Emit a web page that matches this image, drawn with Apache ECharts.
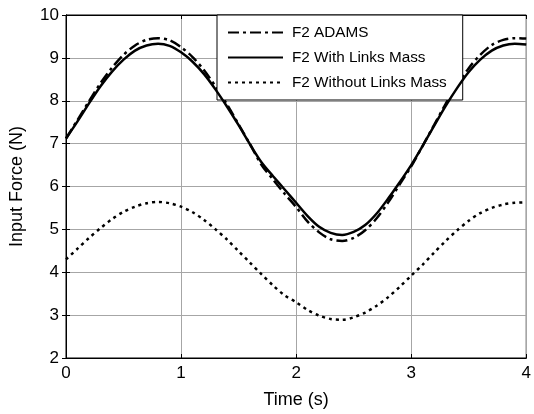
<!DOCTYPE html>
<html>
<head>
<meta charset="utf-8">
<script src="https://cdn.jsdelivr.net/npm/echarts@6/dist/echarts.min.js"></script>
<style>
html,body{margin:0;padding:0;background:#fff;}
#chart{width:534px;height:414px;}
</style>
</head>
<body>
<div id="chart"></div>
<script>
// Time samples (s)
var timeS = [0.0,0.1,0.2,0.3,0.4,0.5,0.6,0.7,0.8,0.9,1.0,1.1,1.2,1.3,1.4,1.5,1.6,1.7,1.8,1.9,2.0,
             2.1,2.2,2.3,2.4,2.5,2.6,2.7,2.8,2.9,3.0,3.1,3.2,3.3,3.4,3.5,3.6,3.7,3.8,3.9,4.0];
// F2 ADAMS (N)
var f2Adams = [7.12,7.55,7.99,8.41,8.77,9.07,9.29,9.42,9.46,9.41,9.25,9.02,8.71,8.33,7.91,7.45,6.98,6.50,6.16,5.83,5.52,
               5.18,4.93,4.77,4.73,4.80,4.98,5.26,5.63,6.05,6.47,6.95,7.44,7.93,8.37,8.76,9.07,9.30,9.42,9.46,9.45];
// F2 With Links Mass (N)
var f2WithMass = [7.12,7.52,7.94,8.34,8.68,8.96,9.17,9.29,9.33,9.28,9.13,8.91,8.62,8.26,7.86,7.43,6.98,6.56,6.24,5.93,5.62,
                  5.31,5.06,4.92,4.87,4.94,5.10,5.37,5.72,6.10,6.50,6.95,7.42,7.88,8.30,8.67,8.96,9.17,9.29,9.33,9.31];
// F2 Without Links Mass (N)
var f2WithoutMass = [4.30,4.55,4.80,5.03,5.24,5.41,5.53,5.61,5.64,5.61,5.53,5.40,5.22,5.00,4.76,4.49,4.22,3.95,3.69,3.46,3.30,
                     3.12,2.99,2.91,2.89,2.95,3.06,3.22,3.42,3.66,3.92,4.18,4.46,4.73,4.98,5.20,5.38,5.50,5.58,5.62,5.63];
var xTicks = [0,1,2,3,4];
var yTicks = [2,3,4,5,6,7,8,9,10];
var seriesNames = ['F2 ADAMS','F2 With Links Mass','F2 Without Links Mass'];

function pairs(ys){ return timeS.map(function(t,i){ return [t, ys[i]]; }); }

var FONT = '"Liberation Sans", Arial, sans-serif';
var chart = echarts.init(document.getElementById('chart'), null, {renderer:'canvas'});
var gridLine = {show:true, lineStyle:{color:'#a6a6a6', width:1}};
chart.setOption({
  animation:false,
  backgroundColor:'#fff',
  grid:{left:64, right:2, top:15, bottom:52, show:true, borderColor:'#000', borderWidth:1, backgroundColor:'transparent'},
  xAxis:[{
    type:'value', min:xTicks[0], max:xTicks[xTicks.length-1], interval:1, position:'bottom',
    axisLine:{show:true, lineStyle:{color:'#000', width:1}},
    axisTick:{show:true, inside:true, length:4, lineStyle:{color:'#000'}},
    axisLabel:{color:'#000', fontSize:17, fontFamily:FONT, margin:7},
    splitLine:gridLine,
    name:'Time (s)', nameLocation:'middle', nameGap:33,
    nameTextStyle:{color:'#000', fontSize:18, fontFamily:FONT}
  },{
    type:'value', min:0, max:4, interval:1, position:'top',
    axisLine:{show:true, lineStyle:{color:'#000'}},
    axisTick:{show:true, inside:true, length:4, lineStyle:{color:'#000'}},
    axisLabel:{show:false}, splitLine:{show:false}
  }],
  yAxis:[{
    type:'value', min:yTicks[0], max:yTicks[yTicks.length-1], interval:1, position:'left',
    axisLine:{show:true, lineStyle:{color:'#000', width:1}},
    axisTick:{show:true, inside:true, length:4, lineStyle:{color:'#000'}},
    axisLabel:{color:'#000', fontSize:17, fontFamily:FONT, margin:7},
    splitLine:gridLine,
    name:'Input Force (N)', nameLocation:'middle', nameGap:40,
    nameTextStyle:{color:'#000', fontSize:18, fontFamily:FONT}
  },{
    type:'value', min:2, max:10, interval:1, position:'right',
    axisLine:{show:true, lineStyle:{color:'#000'}},
    axisTick:{show:true, inside:true, length:4, lineStyle:{color:'#000'}},
    axisLabel:{show:false}, splitLine:{show:false}
  }],
  legend:{
    orient:'vertical', left:217, top:15,
    backgroundColor:'#fff', borderColor:'#000', borderWidth:1,
    padding:[10,16,10,10], itemWidth:55, itemHeight:14, itemGap:10,
    itemStyle:{opacity:0},
    textStyle:{color:'#000', fontSize:15.3, fontFamily:FONT, padding:[0,0,0,4]},
    data:seriesNames
  },
  series:[
    {name:seriesNames[0], type:'line', data:pairs(f2Adams), showSymbol:false, symbol:'none', smooth:0.3,
     itemStyle:{color:'#000'},
     lineStyle:{color:'#000', width:2.5, type:[11,4,3,4]}, z:3},
    {name:seriesNames[1], type:'line', data:pairs(f2WithMass), showSymbol:false, symbol:'none', smooth:0.3,
     itemStyle:{color:'#000'},
     lineStyle:{color:'#000', width:2.5, type:'solid'}, z:4},
    {name:seriesNames[2], type:'line', data:pairs(f2WithoutMass), showSymbol:false, symbol:'none', smooth:0.3,
     itemStyle:{color:'#000'},
     lineStyle:{color:'#000', width:2.5, type:[3,4]}, z:3}
  ]
});
</script>
</body>
</html>
